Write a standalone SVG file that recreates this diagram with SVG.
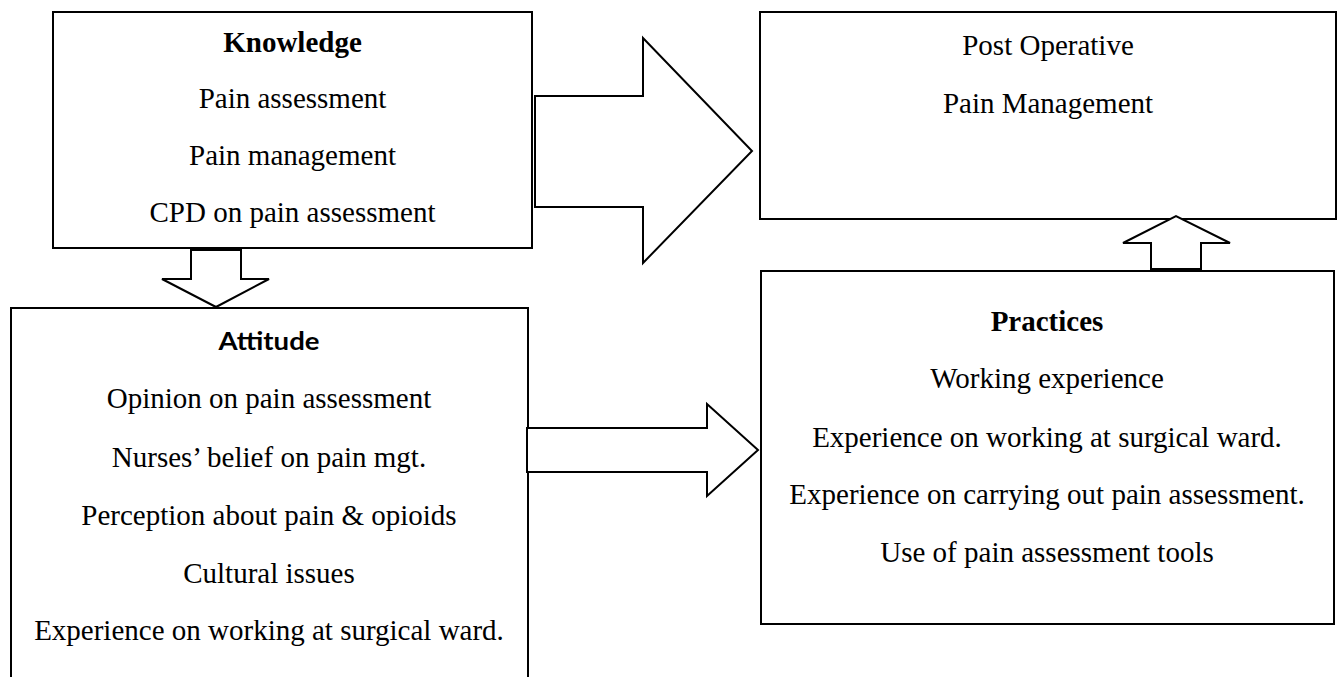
<svg xmlns="http://www.w3.org/2000/svg" width="1342" height="677" viewBox="0 0 1342 677">
<style>
.box{fill:#fff;stroke:#000;stroke-width:2}
.arr{fill:#fff;stroke:#000;stroke-width:2;stroke-linejoin:miter}
.t{font-family:"Liberation Serif","Times New Roman",serif;font-size:29px;fill:#000;text-anchor:middle}
.b{font-weight:bold}
.s{font-family:Lato,"Liberation Sans",sans-serif;font-size:24px;font-weight:bold;fill:#000;text-anchor:middle}
</style>
<rect width="1342" height="677" fill="#fff"/>
<g id="knowledge">
<rect class="box" x="53" y="12" width="479" height="236"/>
<text class="t b" x="292.5" y="52">Knowledge</text>
<text class="t" x="292.5" y="108">Pain assessment</text>
<text class="t" x="292.5" y="165">Pain management</text>
<text class="t" x="292.5" y="222">CPD on pain assessment</text>
</g>
<g id="postop">
<rect class="box" x="760" y="12" width="576" height="207"/>
<text class="t" x="1048" y="55">Post Operative</text>
<text class="t" x="1048" y="113">Pain Management</text>
</g>
<g id="attitude">
<rect class="box" x="11" y="308" width="517" height="400"/>
<text class="s" x="269" y="350" textLength="101" lengthAdjust="spacingAndGlyphs">Attitude</text>
<text class="t" x="269" y="408">Opinion on pain assessment</text>
<text class="t" x="269" y="467">Nurses’ belief on pain mgt.</text>
<text class="t" x="269" y="525">Perception about pain &amp; opioids</text>
<text class="t" x="269" y="583">Cultural issues</text>
<text class="t" x="269" y="640">Experience on working at surgical ward.</text>
</g>
<g id="practices">
<rect class="box" x="761" y="271" width="573" height="353"/>
<text class="t b" x="1047" y="331">Practices</text>
<text class="t" x="1047" y="388">Working experience</text>
<text class="t" x="1047" y="447">Experience on working at surgical ward.</text>
<text class="t" x="1047" y="504">Experience on carrying out pain assessment.</text>
<text class="t" x="1047" y="562">Use of pain assessment tools</text>
</g>
<g id="connectors">
<polygon class="arr" points="535,96 643,96 643,38 752,151 643,263 643,207 535,207"/>
<polygon class="arr" points="191,250 241,250 241,279 269,279 216,307 162,279 191,279"/>
<polygon class="arr" points="527,428 707,428 707,404 758,450 707,496 707,472 527,472"/>
<polygon class="arr" points="1151,269 1151,243 1123,243 1176,216 1230,243 1201,243 1201,269"/>
</g>
</svg>
